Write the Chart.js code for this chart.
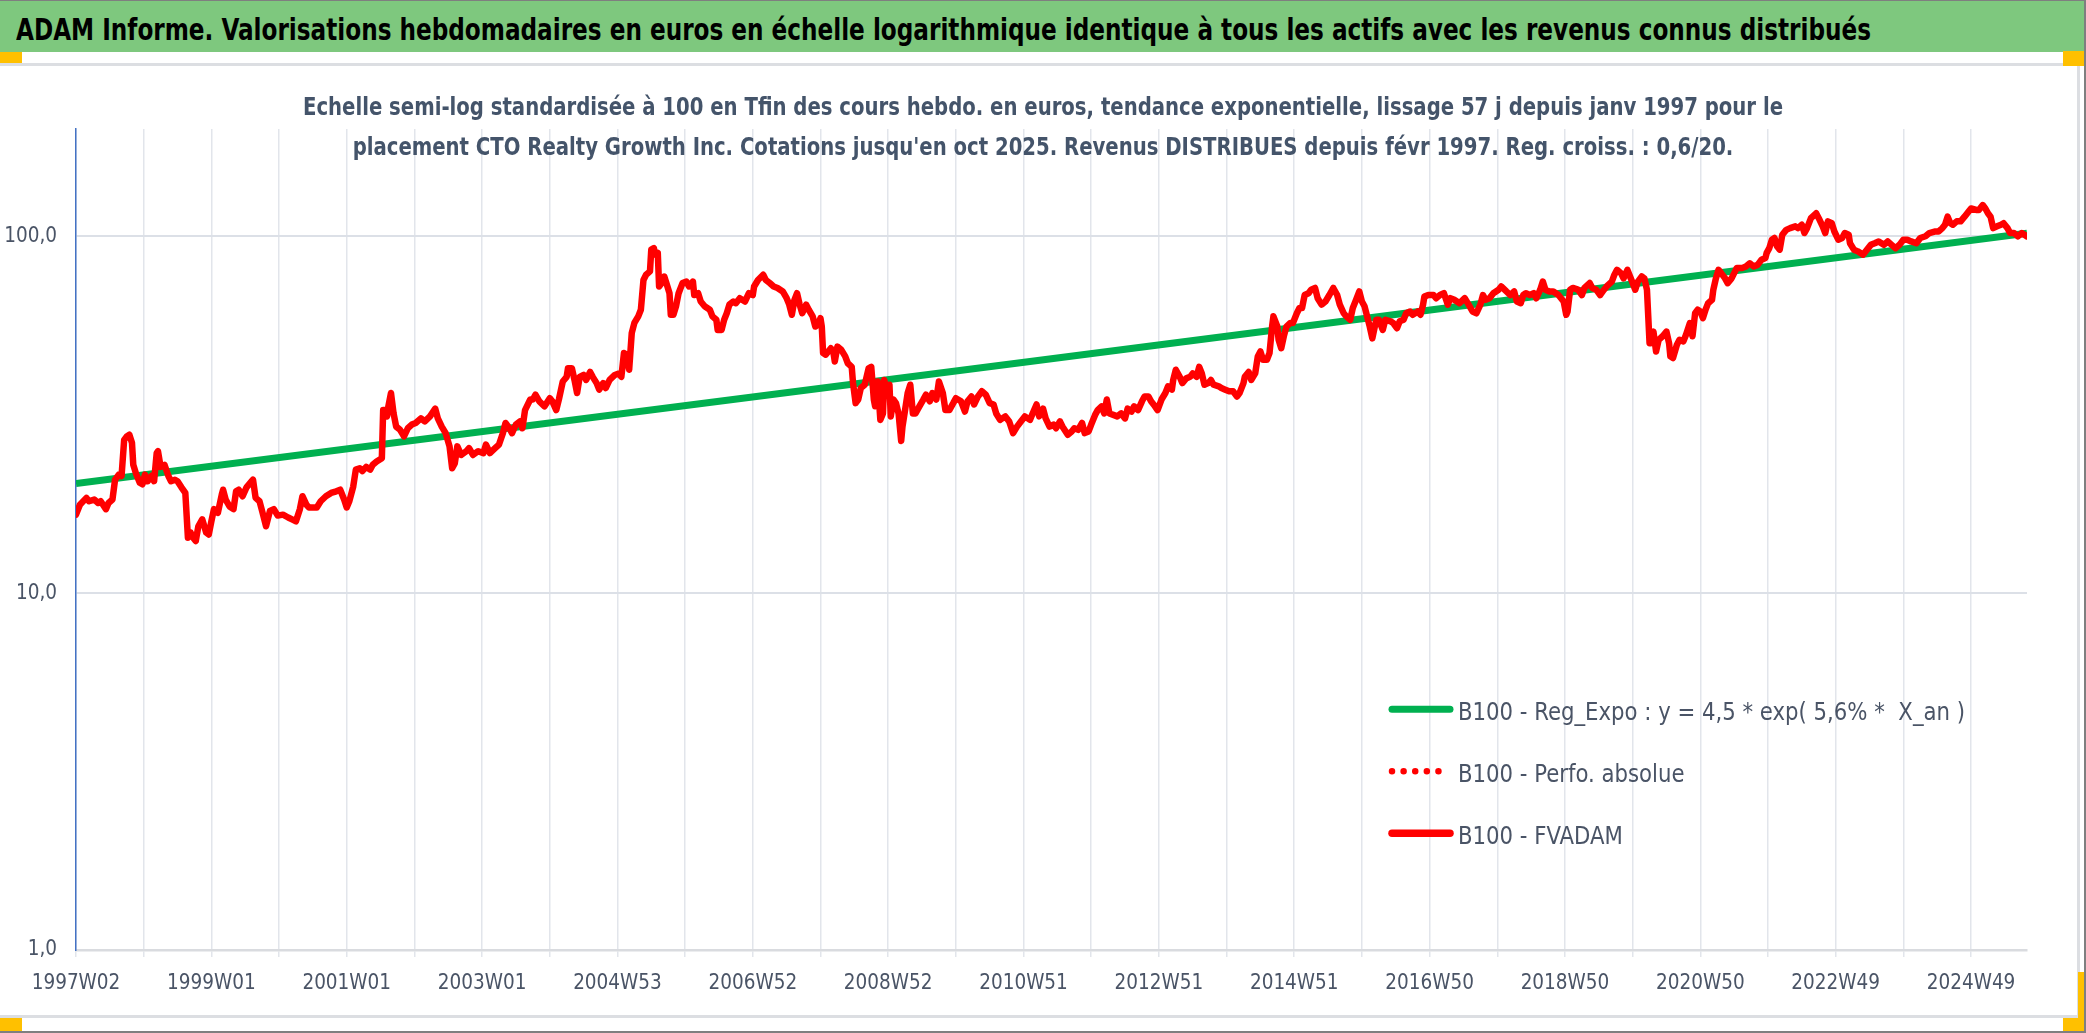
<!DOCTYPE html>
<html>
<head>
<meta charset="utf-8">
<script src="https://cdn.jsdelivr.net/npm/chart.js@4.4.1/dist/chart.umd.min.js"></script>
<style>
  html, body { margin: 0; padding: 0; background: #ffffff; }
  #page { position: relative; width: 2086px; height: 1033px; overflow: hidden; background: #ffffff; }
  #bar { position: absolute; left: 0; top: 1px; width: 2086px; height: 51px; background: #7EC87E; }
  #title { position: absolute; left: 16px; top: 14px; white-space: nowrap; font-weight: bold; color: #000000;
           line-height: 1; transform-origin: 0 0; }
  #box { position: absolute; left: -3px; top: 63px; width: 2083px; height: 955px; box-sizing: border-box; border: 3px solid #DCDEE2; }
  .orange { position: absolute; background: #FFC000; }
  #outer { position: absolute; left: 0; top: 0; width: 2086px; height: 1033px; box-sizing: border-box;
           border-top: 1px solid #7f7f7f; border-right: 2px solid #7f7f7f; border-bottom: 2px solid #7f7f7f; pointer-events: none; }
  #chart { position: absolute; left: 0; top: 64px; }
</style>
</head>
<body>
<div id="page">
  <div id="bar"></div>
  <div id="title">ADAM Informe. Valorisations hebdomadaires en euros en échelle logarithmique identique à tous les actifs avec les revenus connus distribués</div>
  <div id="box"></div>
  <div class="orange" style="left:0;top:52px;width:22px;height:11px"></div>
  <div class="orange" style="left:2063px;top:51px;width:23px;height:15px"></div>
  <div class="orange" style="left:2078px;top:972px;width:8px;height:46px"></div>
  <div class="orange" style="left:2063px;top:1018px;width:23px;height:13px"></div>
  <div class="orange" style="left:0;top:1018px;width:22px;height:13px"></div>
  <canvas id="chart" width="2086" height="953"></canvas>
  <div id="outer"></div>
</div>
<script>
// ---------------- DATA ----------------
const subtitleLines = [
  "Echelle semi-log standardisée à 100 en Tfin des cours hebdo. en euros, tendance exponentielle, lissage 57 j depuis janv 1997 pour le",
  "placement CTO Realty Growth Inc. Cotations jusqu'en oct 2025. Revenus DISTRIBUES depuis févr 1997. Reg. croiss. : 0,6/20."
];
const legendLabels = [
  "B100 - Reg_Expo : y = 4,5 * exp( 5,6% *  X_an )",
  "B100 - Perfo. absolue",
  "B100 - FVADAM"
];
// x = week index since 1997W02 ; tick labels every 104 weeks
const weekMax = 1499;
const xTickLabels = ["1997W02","1999W01","2001W01","2003W01","2004W53","2006W52","2008W52",
                     "2010W51","2012W51","2014W51","2016W50","2018W50","2020W50","2022W49","2024W49"];
const xGridStep = 52;
const xLabelStep = 104;
const yTickValues = [1, 10, 100];

// Exponential regression line
const regExpoWeeks  = [0, 733, 1499];
const regExpoValues = [20.3, 44.6, 102.0];

// FVADAM (base 100 at end) - weekly index
const fvadamWeeks = [
0,3,8,10,14,17,19,23,25,28,30,33,35,37,39,41,43,44,46,49,51,53,55,58,60,62,63,65,68,71,73,76,78,81,84,86,88,90,92,94,97,100,102,104,106,109,112,113,115,118,121,123,125,128,131,135,136,138,141,143,146,149,152,155,159,163,166,169,172,174,177,179,185,188,192,196,200,203,206,208,210,213,215,218,220,223,226,228,231,235,236,237,239,240,242,244,246,249,252,255,258,261,265,268,272,276,278,281,284,287,289,291,293,296,300,302,305,309,313,315,318,322,325,328,330,333,335,338,341,343,345,349,351,353,356,360,
364,366,369,371,374,377,378,381,383,385,387,390,392,395,397,400,402,405,407,410,414,417,419,421,423,425,427,429,432,434,436,438,441,442,444,445,447,448,450,452,454,456,457,459,461,463,466,469,471,474,475,478,480,483,487,489,492,493,496,498,500,502,505,507,510,514,517,520,521,524,528,530,533,536,539,543,546,548,550,552,554,556,558,561,563,566,568,570,572,573,574,576,580,582,583,585,588,591,593,596,597,599,601,603,606,609,611,613,614,616,618,620,621,623,625,626,628,630,632,634,635,637,639,641,643,645,648,651,653,656,658,661,663,666,668,671,674,676,680,683,685,688,690,693,696,699,702,705,707,710,714,717,720,723,726,729,733,
735,738,740,743,745,748,751,753,756,758,762,765,767,770,773,775,778,780,783,785,788,790,792,794,797,800,803,806,808,811,813,816,819,821,824,826,829,831,834,837,839,842,843,845,848,850,853,856,858,861,863,865,867,870,872,874,878,880,883,886,889,892,894,897,898,901,903,906,908,910,912,915,917,919,920,923,924,926,928,930,933,935,938,940,942,944,947,949,952,954,957,960,963,966,969,971,974,976,979,981,983,986,988,990,992,994,996,999,1001,1004,1006,1010,1012,1015,1017,1020,1022,1025,1027,1031,1033,1035,1036,1039,1043,1045,1048,1051,1054,1056,1059,1063,1067,1070,1073,1076,1079,1081,1083,1086,1089,1093,1095,1099,1102,1105,1107,1110,1112,1114,
1117,1120,1122,1125,1127,1129,1132,1135,1139,1141,1143,1145,1146,1148,1150,1154,1157,1159,1163,1165,1168,1171,1174,1176,1180,1182,1184,1187,1189,1192,1194,1196,1198,1200,1203,1205,1207,1209,1210,1212,1214,1216,1219,1222,1224,1225,1227,1230,1232,1235,1237,1240,1242,1244,1246,1248,1250,1252,1254,1257,1258,1260,1262,1264,1267,1269,1272,1274,1276,1280,1283,1286,1289,1292,1295,1298,1299,1301,1303,1305,1307,1309,1311,1314,1317,1321,1323,1326,1328,1330,1333,1337,1339,1342,1344,1346,1349,1351,1354,1357,1359,1362,1363,1366,1369,1373,1376,1379,1382,1385,1389,1392,1395,1398,1401,1404,1407,1410,1414,1417,1421,1424,1428,1431,1434,1436,1438,1440,1442,1445,1448,1451,1454,1456,1460,1462,1465,1467,1469,1471,1473,1476,1479,1481,1484,1486,1489,1492,1495,1497,1499
];
const fvadamValues = [
16.6,17.7,18.5,18.1,18.3,17.9,18.1,17.2,17.9,18.3,20.8,21.5,21.3,26.9,27.5,27.8,26.4,22.9,21.7,20.4,20.2,21.5,20.6,21.3,20.6,24.7,25.0,22.6,22.9,21.3,20.6,20.8,20.6,19.8,19.1,14.3,14.8,14.3,14.0,15.4,16.1,14.8,14.6,15.9,17.2,16.8,18.9,19.5,18.3,17.5,17.2,19.3,19.5,18.7,19.8,20.6,20.8,18.5,18.1,17.0,15.4,17.0,17.2,16.5,16.6,16.3,16.1,15.9,17.2,18.7,17.7,17.4,17.4,18.1,18.7,19.1,19.3,19.5,18.3,17.4,18.1,19.9,22.2,22.4,22.0,22.6,22.2,22.9,23.4,23.9,32.6,32.6,31.3,33.4,36.4,31.9,29.3,28.7,27.5,29.0,29.7,30.0,30.9,30.3,31.3,32.9,30.9,29.3,28.1,25.8,22.4,23.1,25.8,24.4,25.0,25.5,24.4,25.0,24.7,26.1,24.7,25.5,26.1,28.1,30.0,29.0,28.1,29.7,30.3,29.0,32.6,34.9,34.9,36.0,34.5,33.4,
35.2,34.5,32.6,34.9,39.2,40.4,42.7,42.7,39.6,36.4,40.4,40.9,39.6,41.7,40.4,38.8,37.2,38.8,37.6,39.6,40.9,41.3,40.4,47.1,46.6,42.3,53.6,57.2,59.7,62.3,75.5,78.1,79.8,91.8,92.7,88.9,89.9,72.4,74.0,77.2,73.2,69.3,60.3,60.3,63.7,69.3,74.0,74.7,72.4,74.7,68.5,69.3,65.7,63.7,62.3,59.7,58.4,54.7,54.7,58.4,60.9,64.4,65.7,65.0,67.1,65.7,69.3,68.5,72.4,75.5,78.1,75.5,74.0,72.4,71.7,70.1,67.1,64.4,60.3,66.4,69.3,64.4,60.9,64.4,62.3,59.7,55.9,56.6,59.0,55.9,47.1,46.6,48.6,47.1,44.6,49.1,48.1,46.1,44.1,43.1,38.8,34.1,34.9,37.6,38.4,42.7,43.1,34.9,33.4,39.2,30.6,31.9,39.6,36.4,38.4,31.3,34.9,34.1,31.9,26.7,29.3,32.6,36.4,38.4,31.9,31.9,33.4,34.9,36.0,34.5,36.4,34.9,39.2,36.4,32.6,32.6,34.1,35.2,34.5,32.3,34.5,35.6,33.8,35.6,36.8,36.0,34.1,33.8,31.9,30.6,31.3,30.3,28.1,29.3,30.3,31.3,30.6,
31.9,33.8,31.3,32.9,30.9,29.3,29.7,29.0,30.3,29.3,27.8,28.4,29.0,28.7,30.0,28.1,28.4,29.7,31.6,32.6,33.4,31.9,34.9,31.9,31.6,31.3,31.9,30.9,32.9,32.3,33.4,32.6,34.5,35.6,35.6,34.5,33.4,32.6,34.9,36.4,38.0,37.2,39.6,42.3,40.4,38.8,40.0,40.4,41.3,40.4,43.1,41.3,38.4,38.8,39.6,38.4,38.0,37.6,37.2,36.8,36.8,35.6,36.4,38.8,40.4,41.7,39.6,41.3,46.1,47.6,45.1,45.1,47.1,55.9,59.7,55.9,51.3,48.6,52.5,55.9,57.2,57.2,60.9,63.0,63.0,68.5,69.3,70.9,71.7,67.1,64.4,65.7,68.5,71.7,68.5,64.4,60.9,59.7,58.4,63.0,65.7,70.1,65.7,63.7,59.7,55.9,51.8,58.4,58.4,54.7,58.4,57.8,57.2,55.3,57.8,58.4,60.9,61.6,60.3,61.6,60.3,64.4,67.8,68.5,68.5,67.1,68.5,69.3,64.4,67.1,66.4,65.0,67.1,64.4,61.6,60.9,64.4,68.5,66.4,67.1,69.3,70.9,72.4,70.1,68.5,70.1,65.7,65.0,68.5,69.3,
68.5,69.3,67.1,70.9,74.7,70.9,70.1,70.1,68.5,67.1,65.7,60.3,61.6,70.9,71.7,70.9,68.5,71.7,74.0,71.7,70.9,68.5,70.9,72.4,74.7,78.1,80.6,78.9,76.3,80.6,77.2,74.0,70.9,74.7,77.2,76.3,70.9,50.2,50.2,54.1,47.6,51.3,52.5,54.1,50.2,46.1,45.6,49.7,51.3,50.8,53.0,57.2,52.5,60.9,62.3,61.6,59.0,62.3,65.0,66.4,70.9,76.3,80.6,78.9,76.3,74.0,76.3,78.9,81.5,81.5,82.4,84.1,82.4,83.2,86.0,87.0,89.9,92.7,97.9,99.0,93.7,91.8,101.1,104.3,105.5,106.7,105.5,107.8,102.2,105.5,112.5,116.1,112.5,106.7,102.2,110.2,108.9,103.2,97.9,99.0,102.2,101.1,95.7,91.8,90.8,88.9,91.8,94.7,95.7,96.8,94.7,96.8,94.7,92.7,94.7,97.9,97.9,96.8,95.7,99.0,100.1,102.2,103.2,103.2,105.5,107.8,113.6,109.0,107.8,110.2,110.2,113.6,117.3,119.8,118.6,118.6,122.4,119.8,116.1,113.6,105.5,106.7,107.8,108.9,105.5,102.2,102.2,100.0,102.2,101.1,100.0
];
// "Perfo. absolue" coincides with FVADAM in the picture (hidden beneath it)
const perfoWeeks = fvadamWeeks;
const perfoValues = fvadamValues;

// ---------------- STYLE / LAYOUT ----------------
const FONT = "'Liberation Sans Narrow', 'DejaVu Sans Condensed', 'Arial Narrow', sans-serif";
const TEXT_COLOR = '#4A5466';
const mctx = document.createElement('canvas').getContext('2d');
function textWidth(text, weight, size) {
  mctx.font = weight + ' ' + size + 'px ' + FONT;
  return mctx.measureText(text).width;
}

// header title: font size from cap height, then horizontally fitted to the reference width
const titleEl = document.getElementById('title');
const titleSize = 30;
titleEl.style.fontFamily = FONT;
titleEl.style.fontSize = titleSize + 'px';
titleEl.style.top = (40 - 0.846 * titleSize) + 'px';
titleEl.style.transform = 'scaleX(' + (1855 / textWidth(titleEl.textContent, 'bold', titleSize)) + ')';

const tickSize = 20.5;

function toPoints(ws, vs) { return ws.map((w, i) => ({ x: w, y: vs[i] })); }

const subtitlePlugin = {
  id: 'subtitleText',
  beforeDatasetsDraw(chart, args, opts) {
    const ctx = chart.ctx;
    ctx.save();
    ctx.fillStyle = opts.color;
    ctx.font = 'bold ' + opts.size + 'px ' + FONT;
    const sx = opts.width0 / ctx.measureText(opts.lines[0]).width;
    opts.lines.forEach((line, i) => {
      ctx.save();
      ctx.translate(opts.cx, opts.baseline0 + i * opts.dy);
      ctx.scale(sx, 1);
      ctx.textAlign = 'center';
      ctx.textBaseline = 'alphabetic';
      ctx.fillText(line, 0, 0);
      ctx.restore();
    });
    ctx.restore();
  }
};

const insideLegend = {
  id: 'insideLegend',
  afterDatasetsDraw(chart, args, opts) {
    const ctx = chart.ctx;
    ctx.save();
    ctx.font = 'normal ' + opts.size + 'px ' + FONT;
    const sx = opts.width0 / ctx.measureText(chart.data.datasets[0].label).width;
    chart.data.datasets.forEach((ds, i) => {
      const y = opts.y0 + i * opts.dy;
      ctx.beginPath();
      ctx.strokeStyle = ds.borderColor;
      ctx.lineWidth = ds.legendWidth || ds.borderWidth;
      ctx.lineCap = 'round';
      ctx.setLineDash(ds.borderDash || []);
      ctx.moveTo(opts.x0, y);
      ctx.lineTo(opts.x1, y);
      ctx.stroke();
      ctx.setLineDash([]);
      ctx.fillStyle = opts.color;
      ctx.save();
      ctx.translate(opts.textX, y + opts.baselineOffset);
      ctx.scale(sx, 1);
      ctx.textAlign = 'left';
      ctx.textBaseline = 'alphabetic';
      ctx.fillText(ds.label, 0, 0);
      ctx.restore();
    });
    ctx.restore();
  }
};

const gridTicks = [];
for (let w = 0; w <= weekMax; w += xGridStep) gridTicks.push({ value: w });

new Chart(document.getElementById('chart'), {
  type: 'line',
  data: {
    datasets: [
      { label: legendLabels[0], data: toPoints(regExpoWeeks, regExpoValues), borderColor: '#00B050',
        borderWidth: 7, legendWidth: 7, pointRadius: 0, order: 2 },
      { label: legendLabels[1], data: toPoints(perfoWeeks, perfoValues), borderColor: '#FF0000',
        borderWidth: 5, legendWidth: 6.5, borderDash: [0.01, 11.6], borderCapStyle: 'round', pointRadius: 0, order: 1 },
      { label: legendLabels[2], data: toPoints(fvadamWeeks, fvadamValues), borderColor: '#FF0000',
        borderWidth: 6.5, legendWidth: 7.5, borderJoinStyle: 'round', borderCapStyle: 'round', pointRadius: 0, order: 0 }
    ]
  },
  options: {
    responsive: false,
    animation: false,
    devicePixelRatio: 1,
    layout: { padding: { left: 0, right: 0, top: 65, bottom: 0 } },
    plugins: {
      legend: { display: false },
      tooltip: { enabled: false },
      title: { display: false },
      subtitleText: { lines: subtitleLines, color: '#44546A', size: 25, width0: 1480, cx: 1043, baseline0: 50.9, dy: 40 },
      insideLegend: { x0: 1392, x1: 1450, textX: 1458, y0: 645.3, dy: 62, size: 25, width0: 507,
                      baselineOffset: 10.7, color: TEXT_COLOR }
    },
    scales: {
      x: {
        type: 'linear', min: 0, max: weekMax,
        afterBuildTicks(scale) { scale.ticks = gridTicks.map(t => ({ value: t.value })); },
        afterFit(scale) { scale.height = 67; },
        ticks: {
          autoSkip: false, maxRotation: 0, minRotation: 0, padding: 14, color: TEXT_COLOR,
          font: { family: FONT, size: tickSize },
          callback(v) { return (v % xLabelStep === 0) ? xTickLabels[v / xLabelStep] : ''; }
        },
        grid: { color: '#E2E5EB', lineWidth: 1.5, tickLength: 7, drawTicks: true },
        border: { color: '#D9DBDF', width: 2.5 }
      },
      y: {
        type: 'logarithmic', min: 1, max: 200, position: 'left',
        afterBuildTicks(scale) { scale.ticks = yTickValues.map(v => ({ value: v })); },
        afterFit(scale) { scale.width = 76; },
        ticks: {
          padding: 19, color: TEXT_COLOR, font: { family: FONT, size: tickSize },
          callback(v) { return Number(v).toFixed(1).replace('.', ','); }
        },
        grid: { color: '#DCE0E7', lineWidth: 2, drawTicks: false },
        border: { color: '#4472C4', width: 1.5 }
      },
      yRight: {
        type: 'linear', position: 'right', display: true,
        afterFit(scale) { scale.width = 59; },
        ticks: { display: false },
        grid: { display: false, drawTicks: false },
        border: { display: false }
      }
    }
  },
  plugins: [subtitlePlugin, insideLegend]
});
</script>
</body>
</html>
